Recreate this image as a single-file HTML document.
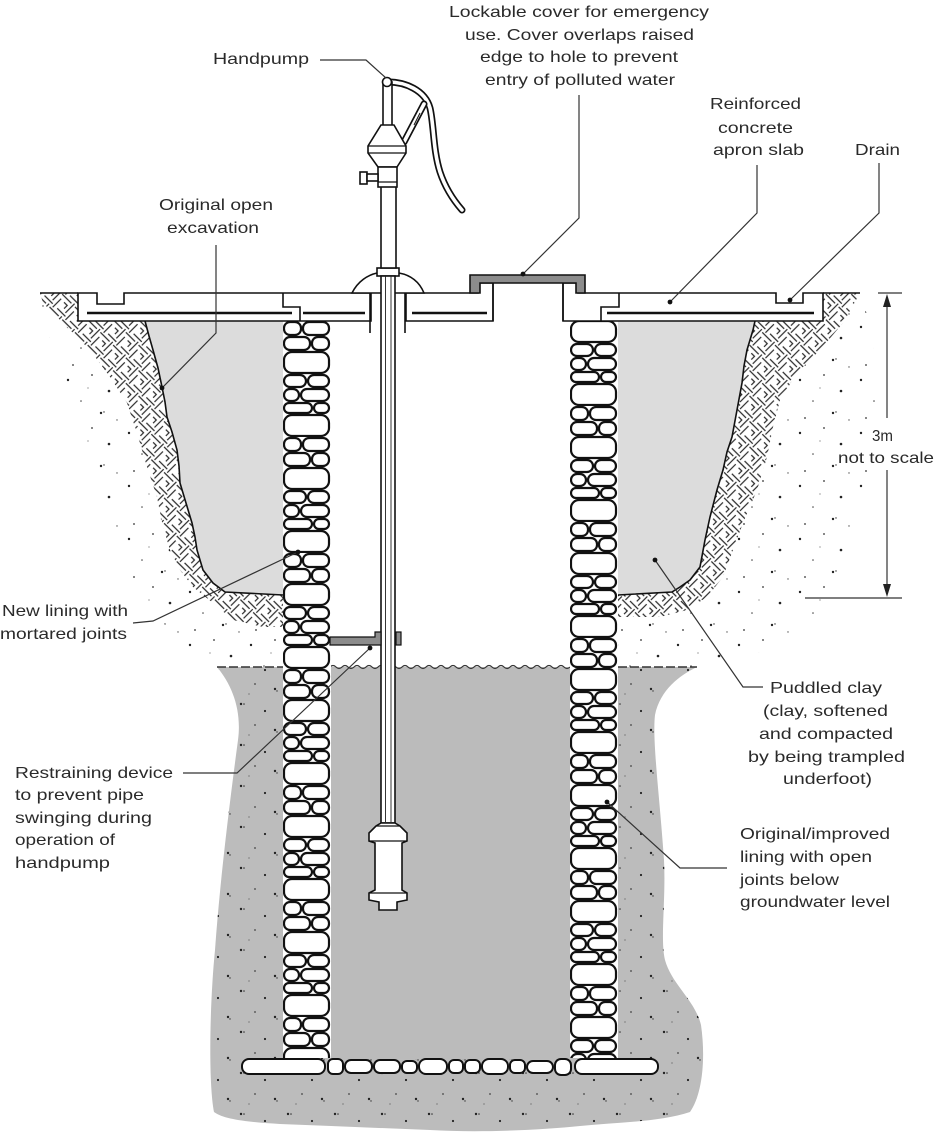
<!DOCTYPE html>
<html><head><meta charset="utf-8"><style>
html,body{margin:0;padding:0;background:#fff;}
svg{display:block;}
text{font-family:"Liberation Sans",Arial,sans-serif;font-size:16px;fill:#2a2a2a;}
</style></head><body>
<svg width="936" height="1134" viewBox="0 0 936 1134" xmlns="http://www.w3.org/2000/svg">
<defs>
<pattern id="dots" width="61" height="53" patternUnits="userSpaceOnUse">
<circle cx="7" cy="9" r="1.2" fill="#222"/><circle cx="31" cy="4" r="0.9" fill="#333"/>
<circle cx="48" cy="20" r="1.3" fill="#222"/><circle cx="20" cy="30" r="0.8" fill="#444"/>
<circle cx="40" cy="42" r="1.2" fill="#222"/><circle cx="12" cy="47" r="0.9" fill="#333"/>
<circle cx="56" cy="49" r="0.7" fill="#555"/><circle cx="27" cy="17" r="0.6" fill="#666"/>
<circle cx="43" cy="41" r="0.7" fill="#333"/>
</pattern>
<pattern id="dots2" width="47" height="41" patternUnits="userSpaceOnUse">
<circle cx="6" cy="7" r="1.2" fill="#222"/><circle cx="9" cy="7" r="0.8" fill="#333"/>
<circle cx="30" cy="14" r="1.1" fill="#222"/><circle cx="20" cy="28" r="0.9" fill="#444"/>
<circle cx="40" cy="33" r="1.2" fill="#222"/><circle cx="42" cy="35" r="0.7" fill="#333"/>
<circle cx="14" cy="38" r="0.6" fill="#555"/>
</pattern>
<pattern id="hatch" width="18" height="18" patternUnits="userSpaceOnUse" patternTransform="rotate(45)">
<path d="M0,2 H13 M15.5,0 V13 M2.5,6 V18 M6.5,15.5 H18 M7,6.5 H11.5 V11" stroke="#2a2a2a" stroke-width="1.2" fill="none"/>
</pattern>
<g id="tile">
<rect x="1" y="1" width="17" height="13" rx="6"/><rect x="20" y="1" width="26" height="13" rx="6"/>
<rect x="1" y="16" width="26" height="13" rx="6"/><rect x="29" y="16" width="17" height="13" rx="6"/>
<rect x="1" y="31" width="45" height="21" rx="8"/>
<rect x="1" y="54" width="22" height="12" rx="6"/><rect x="25" y="54" width="21" height="12" rx="6"/>
<rect x="1" y="68" width="15" height="12" rx="6"/><rect x="18" y="68" width="28" height="12" rx="6"/>
<rect x="1" y="82" width="28" height="10" rx="5"/><rect x="31" y="82" width="15" height="10" rx="5"/>
<rect x="1" y="94" width="45" height="21" rx="8"/>
</g>
<pattern id="stonesL" x="283" y="321" width="48" height="116" patternUnits="userSpaceOnUse">
<rect width="48" height="116" fill="#fff"/>
<use href="#tile" fill="#fff" stroke="#111" stroke-width="2.2"/>
</pattern>
<pattern id="stonesR" x="570" y="290" width="48" height="116" patternUnits="userSpaceOnUse">
<rect width="48" height="116" fill="#fff"/>
<use href="#tile" fill="#fff" stroke="#111" stroke-width="2.2"/>
</pattern>
</defs>

<!-- dotted soil -->
<path d="M40,293 L283,293 L283,667 L217,667 L180,640 L145,605 L122,560 L105,510 L85,450 L65,390 L50,340 L40,300 Z" fill="url(#dots)"/>
<path d="M618,293 L860,293 L872,330 L876,400 L868,480 L852,560 L828,610 L790,640 L740,660 L697,667 L618,667 Z" fill="url(#dots)"/>

<!-- hatch -->
<path d="M40,293 L78,293 L78,321 L145,321 L153,350 L162,387 L167,417 L177,450 L180,483 L192,523 L197,550 L203,570 L213,583 L225,592 L283,595 L283,627 L263,627 L233,620 L213,603 L193,587 L180,570 L170,550 L163,527 L157,497 L147,467 L137,433 L127,403 L110,377 L90,350 L67,327 L43,303 Z" fill="#fff"/>
<path d="M40,293 L78,293 L78,321 L145,321 L153,350 L162,387 L167,417 L177,450 L180,483 L192,523 L197,550 L203,570 L213,583 L225,592 L283,595 L283,627 L263,627 L233,620 L213,603 L193,587 L180,570 L170,550 L163,527 L157,497 L147,467 L137,433 L127,403 L110,377 L90,350 L67,327 L43,303 Z" fill="url(#hatch)"/>
<path d="M860,293 L823,293 L823,321 L755,322 L753,330 L747,350 L742,383 L737,410 L732,437 L723,470 L717,490 L710,517 L705,540 L700,567 L690,580 L680,587 L672,592 L618,595 L618,617 L660,617 L687,610 L707,597 L723,577 L733,550 L743,523 L757,490 L767,457 L773,427 L780,400 L797,373 L820,350 L843,323 Z" fill="#fff"/>
<path d="M860,293 L823,293 L823,321 L755,322 L753,330 L747,350 L742,383 L737,410 L732,437 L723,470 L717,490 L710,517 L705,540 L700,567 L690,580 L680,587 L672,592 L618,595 L618,617 L660,617 L687,610 L707,597 L723,577 L733,550 L743,523 L757,490 L767,457 L773,427 L780,400 L797,373 L820,350 L843,323 Z" fill="url(#hatch)"/>

<!-- puddled clay -->
<path d="M145,321 L283,321 L283,595 L225,592 L213,583 L203,570 L197,550 L192,523 L180,483 L177,450 L167,417 L162,387 L153,350 Z" fill="#dcdcdc"/>
<path d="M145,321 L149,336 L153,350 L158,368 L162,387 L165,402 L167,417 L172,432 L177,450 L179,466 L180,483 L186,503 L192,523 L195,537 L197,550 L203,570 L213,583 L225,592 L283,595" fill="none" stroke="#111" stroke-width="1.6"/>
<path d="M755,321 L618,321 L618,595 L672,592 L680,587 L690,580 L700,567 L705,540 L710,517 L717,490 L723,470 L732,437 L737,410 L742,383 L747,350 L753,330 Z" fill="#dcdcdc"/>
<path d="M755,321 L753,330 L747,350 L744,366 L742,383 L737,410 L732,437 L727,452 L723,470 L717,490 L710,517 L705,540 L700,567 L690,580 L680,587 L672,592 L618,595" fill="none" stroke="#111" stroke-width="1.6"/>

<!-- groundwater zone -->
<path d="M217,667 L697,667 C680,675 660,690 655,715 C652,740 660,800 664,860 C666,900 660,940 665,960 C672,985 695,1000 701,1025 C706,1060 702,1095 690,1112 C660,1122 620,1122 580,1126 C540,1130 480,1133 430,1130 C380,1128 330,1126 280,1124 C250,1122 225,1120 214,1112 C208,1080 210,1000 215,950 C220,880 230,800 238,740 C242,710 232,685 217,667 Z" fill="#bcbcbc"/>
<path d="M217,667 L697,667 C680,675 660,690 655,715 C652,740 660,800 664,860 C666,900 660,940 665,960 C672,985 695,1000 701,1025 C706,1060 702,1095 690,1112 C660,1122 620,1122 580,1126 C540,1130 480,1133 430,1130 C380,1128 330,1126 280,1124 C250,1122 225,1120 214,1112 C208,1080 210,1000 215,950 C220,880 230,800 238,740 C242,710 232,685 217,667 Z" fill="url(#dots2)"/>
<rect x="330" y="667" width="240" height="392" fill="#bbbbbb"/>

<!-- water level -->
<path d="M217,667 H283 M618,667 H697" stroke="#333" stroke-width="1.6" stroke-dasharray="9 3" fill="none"/>
<path d="M330,667 q3,-3 6,0 t6,0 t6,0 t6,0 t6,0 t6,0 t6,0 t6,0 t6,0 t6,0 t6,0 t6,0 t6,0 t6,0 t6,0 t6,0 t6,0 t6,0 t6,0 t6,0 t6,0 t6,0 t6,0 t6,0 t6,0 t6,0 t6,0 t6,0 t6,0 t6,0 t6,0 t6,0 t6,0 t6,0 t6,0 t6,0 t6,0 t6,0 t6,0 t6,0" stroke="#333" stroke-width="1.2" fill="none"/>

<!-- linings -->
<rect x="283" y="321" width="48" height="737" fill="url(#stonesL)"/>
<rect x="570" y="321" width="48" height="737" fill="url(#stonesR)"/>
<g fill="#fff" stroke="#111" stroke-width="2">
<rect x="242" y="1059" width="83" height="15" rx="7"/>
<rect x="328" y="1059" width="15" height="15" rx="5"/>
<rect x="345" y="1060" width="27" height="13" rx="6"/>
<rect x="374" y="1060" width="26" height="13" rx="6"/>
<rect x="402" y="1061" width="15" height="12" rx="5"/>
<rect x="419" y="1059" width="28" height="15" rx="7"/>
<rect x="449" y="1060" width="14" height="13" rx="5"/>
<rect x="465" y="1060" width="15" height="13" rx="5"/>
<rect x="482" y="1059" width="26" height="15" rx="7"/>
<rect x="510" y="1060" width="15" height="13" rx="5"/>
<rect x="527" y="1061" width="26" height="12" rx="6"/>
<rect x="555" y="1059" width="16" height="16" rx="6"/>
<rect x="575" y="1059" width="83" height="15" rx="7"/>
</g>

<!-- slab -->
<g fill="#fff" stroke="#111" stroke-width="1.6">
<path d="M78,293 H97 V304 H124 V293 H371 V321 H78 Z"/>
<path d="M406,293 H478 V283 H493 V321 H406 Z"/>
<path d="M563,283 H578 V293 H776 V303 H803 V293 H823 V321 H563 Z"/>
</g>
<g fill="none" stroke="#111" stroke-width="1.6">
<path d="M40,293 H78 M823,293 H860"/>
<path d="M283,293 V307 H300 V321"/>
<path d="M619,293 V307 H601 V321"/>
<path d="M370,288 V333 M405,288 V333"/>
</g>
<g stroke="#111" stroke-width="2.6">
<path d="M87,313 H292 M303,313 H365 M412,313 H487 M607,313 H814"/>
</g>

<!-- dome & collar -->
<path d="M352,293 C358,281 368,275 377,273 L399,273 C410,275 419,281 424,293 Z" fill="#fff" stroke="#111" stroke-width="1.6"/>
<rect x="377" y="268" width="22" height="8" fill="#fff" stroke="#111" stroke-width="1.6"/>

<!-- pipe -->
<rect x="381" y="186" width="15" height="82" fill="#fff" stroke="#111" stroke-width="1.6"/>
<rect x="381" y="276" width="14" height="547" fill="#fff" stroke="#111" stroke-width="1.6"/>
<path d="M385.5,276 V822 M391,276 V822" stroke="#222" stroke-width="0.9"/>

<!-- restraining device -->
<path d="M330,637 H375 V632 H381 V645 H330 Z" fill="#8c8c8c" stroke="#111" stroke-width="1.2"/>
<rect x="396" y="632" width="5" height="13" fill="#8c8c8c" stroke="#111" stroke-width="1.2"/>

<!-- pump cylinder -->
<path d="M381,823 L395,823 L400,826 L407,833 L407,841 L402,843 L402,890 L407,893 L407,900 L397,902 L397,910 L379,910 L379,902 L369,900 L369,893 L375,890 L375,843 L369,841 L369,833 L376,826 Z" fill="#fff" stroke="#111" stroke-width="1.6"/>
<path d="M376,826 H400 M369,841 H407 M369,893 H407" stroke="#111" stroke-width="1.2" fill="none"/>

<!-- handpump head -->
<path d="M388,82 C405,82 425,90 430,108 C434,125 433,150 440,172 C446,190 455,202 462,210" fill="none" stroke="#111" stroke-width="7" stroke-linecap="round"/>
<path d="M388,82 C405,82 425,90 430,108 C434,125 433,150 440,172 C446,190 455,202 462,210" fill="none" stroke="#fff" stroke-width="3.6" stroke-linecap="round"/>
<path d="M424,104 L404,142" stroke="#111" stroke-width="7" stroke-linecap="round"/>
<path d="M424,104 L404,142" stroke="#fff" stroke-width="3.6" stroke-linecap="round"/>
<path d="M420,113 L414,125" stroke="#111" stroke-width="1"/>
<g fill="#fff" stroke="#111" stroke-width="1.6">
<rect x="383" y="82" width="9" height="44"/>
<path d="M381,125 L394,125 L406,146 L406,153 L397,167 L378,167 L368,153 L368,146 Z"/>
<rect x="378" y="167" width="19" height="20"/>
<rect x="360" y="172" width="7" height="12"/>
<rect x="367" y="174" width="11" height="7"/>
<circle cx="387" cy="82" r="4.5"/>
</g>
<path d="M368,146 H406 M368,153 H406 M378,182 H397" stroke="#111" stroke-width="1.2"/>

<!-- cover -->
<path d="M470,293 L470,275 L585,275 L585,293 L576,293 L576,283 L480,283 L480,293 Z" fill="#8c8c8c" stroke="#111" stroke-width="1.6"/>
<path d="M493,283 V321 M563,283 V321" stroke="#111" stroke-width="1.6"/>

<!-- dimension -->
<g stroke="#333" stroke-width="1.2" fill="none">
<path d="M878,293 H902 M805,598 H902"/>
<path d="M887,300 V418 M887,470 V590"/>
</g>
<path d="M887,294 L883,307 L891,307 Z M887,597 L883,584 L891,584 Z" fill="#222"/>

<!-- leaders -->
<g stroke="#333" stroke-width="1.2" fill="none">
<path d="M320,60 H366 L386,78"/>
<path d="M579,95 V218 L523,274"/>
<path d="M757,165 V213 L670,302"/>
<path d="M879,163 V213 L790,300"/>
<path d="M216,245 V333 L162,388"/>
<path d="M133,623 L153,621 L298,552"/>
<path d="M183,773 H237 L370,648"/>
<path d="M763,687 H743 L655,560"/>
<path d="M727,868 H680 L607,802"/>
</g>
<g fill="#111">
<circle cx="523" cy="274" r="2.4"/><circle cx="670" cy="302" r="2.4"/><circle cx="790" cy="300" r="2.4"/>
<circle cx="162" cy="388" r="2.4"/><circle cx="298" cy="552" r="2.4"/><circle cx="370" cy="648" r="2.4"/>
<circle cx="655" cy="560" r="2.4"/><circle cx="607" cy="802" r="2.4"/>
</g>

<!-- text -->
<text x="213" y="64" textLength="96" lengthAdjust="spacingAndGlyphs">Handpump</text>
<text x="449" y="17" textLength="260" lengthAdjust="spacingAndGlyphs">Lockable cover for emergency</text>
<text x="465" y="40" textLength="229" lengthAdjust="spacingAndGlyphs">use. Cover overlaps raised</text>
<text x="480" y="62" textLength="198" lengthAdjust="spacingAndGlyphs">edge to hole to prevent</text>
<text x="485" y="85" textLength="190" lengthAdjust="spacingAndGlyphs">entry of polluted water</text>
<text x="710" y="109" textLength="91" lengthAdjust="spacingAndGlyphs">Reinforced</text>
<text x="718" y="133" textLength="75" lengthAdjust="spacingAndGlyphs">concrete</text>
<text x="713" y="155" textLength="91" lengthAdjust="spacingAndGlyphs">apron slab</text>
<text x="855" y="155" textLength="45" lengthAdjust="spacingAndGlyphs">Drain</text>
<text x="159" y="210" textLength="114" lengthAdjust="spacingAndGlyphs">Original open</text>
<text x="167" y="233" textLength="92" lengthAdjust="spacingAndGlyphs">excavation</text>
<text x="872" y="441" textLength="21" lengthAdjust="spacingAndGlyphs">3m</text>
<text x="838" y="463" textLength="96" lengthAdjust="spacingAndGlyphs">not to scale</text>
<text x="2" y="616" textLength="126" lengthAdjust="spacingAndGlyphs">New lining with</text>
<text x="0" y="639" textLength="127" lengthAdjust="spacingAndGlyphs">mortared joints</text>
<text x="770" y="693" textLength="112" lengthAdjust="spacingAndGlyphs">Puddled clay</text>
<text x="763" y="716" textLength="125" lengthAdjust="spacingAndGlyphs">(clay, softened</text>
<text x="759" y="739" textLength="134" lengthAdjust="spacingAndGlyphs">and compacted</text>
<text x="748" y="762" textLength="157" lengthAdjust="spacingAndGlyphs">by being trampled</text>
<text x="783" y="784" textLength="89" lengthAdjust="spacingAndGlyphs">underfoot)</text>
<text x="15" y="778" textLength="158" lengthAdjust="spacingAndGlyphs">Restraining device</text>
<text x="15" y="800" textLength="129" lengthAdjust="spacingAndGlyphs">to prevent pipe</text>
<text x="15" y="823" textLength="137" lengthAdjust="spacingAndGlyphs">swinging during</text>
<text x="15" y="845" textLength="100" lengthAdjust="spacingAndGlyphs">operation of</text>
<text x="15" y="868" textLength="95" lengthAdjust="spacingAndGlyphs">handpump</text>
<text x="740" y="839" textLength="150" lengthAdjust="spacingAndGlyphs">Original/improved</text>
<text x="740" y="862" textLength="132" lengthAdjust="spacingAndGlyphs">lining with open</text>
<text x="740" y="885" textLength="99" lengthAdjust="spacingAndGlyphs">joints below</text>
<text x="740" y="907" textLength="150" lengthAdjust="spacingAndGlyphs">groundwater level</text>
</svg>
</body></html>
